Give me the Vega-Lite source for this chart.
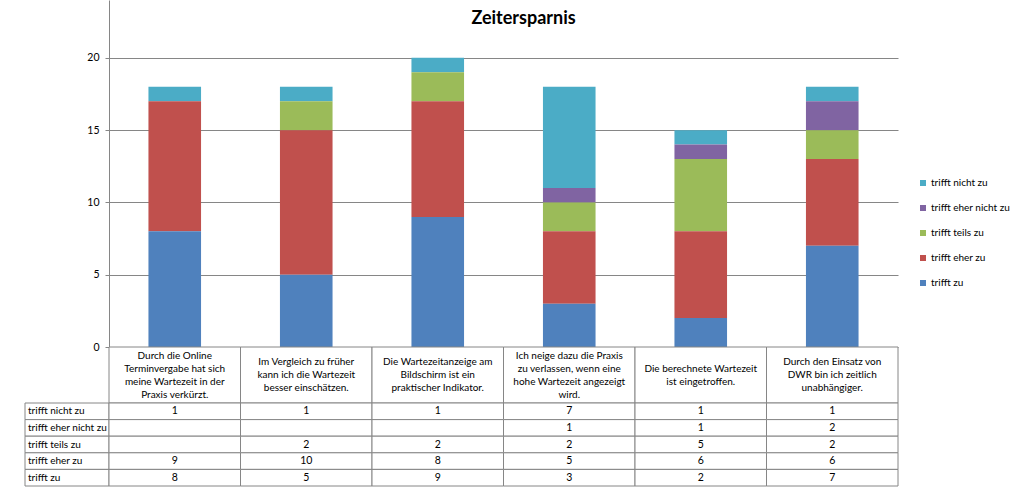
{
  "$schema": "https://vega.github.io/schema/vega-lite/v6.json",
  "padding": {"left": 24, "top": 0, "right": 0, "bottom": 0},
  "background": "white",
  "config": {"font": "Lato", "view": {"stroke": null}},
  "datasets": {
    "questions": [
      {"q": 1, "label": "Durch die Online\nTerminvergabe hat sich\nmeine Wartezeit in der\nPraxis verkürzt."},
      {"q": 2, "label": "Im Vergleich zu früher\nkann ich die Wartezeit\nbesser einschätzen."},
      {"q": 3, "label": "Die Wartezeitanzeige am\nBildschirm ist ein\npraktischer Indikator."},
      {"q": 4, "label": "Ich neige dazu die Praxis\nzu verlassen, wenn eine\nhohe Wartezeit angezeigt\nwird."},
      {"q": 5, "label": "Die berechnete Wartezeit\nist eingetroffen."},
      {"q": 6, "label": "Durch den Einsatz von\nDWR bin ich zeitlich\nunabhängiger."}
    ],
    "answers": [
      {"a": "trifft nicht zu", "k": 5},
      {"a": "trifft eher nicht zu", "k": 4},
      {"a": "trifft teils zu", "k": 3},
      {"a": "trifft eher zu", "k": 2},
      {"a": "trifft zu", "k": 1}
    ],
    "counts": [
      {"q": 1, "a": "trifft nicht zu", "n": 1},
      {"q": 1, "a": "trifft eher nicht zu", "n": null},
      {"q": 1, "a": "trifft teils zu", "n": null},
      {"q": 1, "a": "trifft eher zu", "n": 9},
      {"q": 1, "a": "trifft zu", "n": 8},
      {"q": 2, "a": "trifft nicht zu", "n": 1},
      {"q": 2, "a": "trifft eher nicht zu", "n": null},
      {"q": 2, "a": "trifft teils zu", "n": 2},
      {"q": 2, "a": "trifft eher zu", "n": 10},
      {"q": 2, "a": "trifft zu", "n": 5},
      {"q": 3, "a": "trifft nicht zu", "n": 1},
      {"q": 3, "a": "trifft eher nicht zu", "n": null},
      {"q": 3, "a": "trifft teils zu", "n": 2},
      {"q": 3, "a": "trifft eher zu", "n": 8},
      {"q": 3, "a": "trifft zu", "n": 9},
      {"q": 4, "a": "trifft nicht zu", "n": 7},
      {"q": 4, "a": "trifft eher nicht zu", "n": 1},
      {"q": 4, "a": "trifft teils zu", "n": 2},
      {"q": 4, "a": "trifft eher zu", "n": 5},
      {"q": 4, "a": "trifft zu", "n": 3},
      {"q": 5, "a": "trifft nicht zu", "n": 1},
      {"q": 5, "a": "trifft eher nicht zu", "n": 1},
      {"q": 5, "a": "trifft teils zu", "n": 5},
      {"q": 5, "a": "trifft eher zu", "n": 6},
      {"q": 5, "a": "trifft zu", "n": 2},
      {"q": 6, "a": "trifft nicht zu", "n": 1},
      {"q": 6, "a": "trifft eher nicht zu", "n": 2},
      {"q": 6, "a": "trifft teils zu", "n": 2},
      {"q": 6, "a": "trifft eher zu", "n": 6},
      {"q": 6, "a": "trifft zu", "n": 7}
    ]
  },
  "columns": 2,
  "spacing": 0,
  "bounds": "flush",
  "align": "each",
  "concat": [
    {
      "width": 84, "height": 347,
      "data": {"values": [{}]},
      "mark": {"type": "text", "text": ""}
    },
    {
      "width": 789, "height": 347,
      "data": {"name": "counts"},
      "transform": [
        {"filter": "isValid(datum.n)"},
        {"lookup": "a", "from": {"data": {"name": "answers"}, "key": "a", "fields": ["k"]}}
      ],
      "title": {"text": "Zeitersparnis", "anchor": "middle", "offset": -42, "dx": 20, "baseline": "alphabetic", "fontSize": 18, "fontWeight": "bold", "font": "Lato", "color": "black"},
      "mark": {"type": "bar"},
      "encoding": {
        "x": {"field": "q", "type": "ordinal", "axis": null, "scale": {"paddingInner": 0.6, "paddingOuter": 0.3}},
        "y": {
          "field": "n", "type": "quantitative", "stack": "zero",
          "scale": {"domain": [0, 24], "nice": false, "zero": true},
          "axis": {"values": [0, 5, 10, 15, 20], "title": null, "grid": true, "gridColor": "#868686", "gridWidth": 1, "domainColor": "#868686", "tickColor": "#868686", "tickSize": 4, "labelPadding": 6, "labelFontSize": 10.5, "labelColor": "black", "labelFont": "Lato"}
        },
        "color": {
          "field": "a", "type": "nominal",
          "scale": {"domain": ["trifft nicht zu", "trifft eher nicht zu", "trifft teils zu", "trifft eher zu", "trifft zu"], "range": ["#4BACC6", "#8064A2", "#9BBB59", "#C0504D", "#4F81BD"]},
          "legend": {"title": null, "orient": "none", "legendX": 893, "legendY": 178, "symbolType": "square", "symbolSize": 36, "symbolStrokeWidth": 0, "labelFontSize": 10, "labelFont": "Lato", "labelColor": "black", "labelOffset": 3, "rowPadding": 15, "padding": 0}
        },
        "order": {"field": "k", "type": "quantitative"}
      }
    },
    {
      "width": 84, "height": 56,
      "data": {"values": [{}]},
      "mark": {"type": "text", "text": ""}
    },
    {
      "width": 789, "height": 56,
      "data": {"name": "questions"},
      "encoding": {
        "x": {"field": "q", "type": "ordinal", "axis": null, "scale": {"paddingInner": 0, "paddingOuter": 0}}
      },
      "layer": [
        {"mark": {"type": "rect", "fill": "white", "stroke": "#868686", "strokeWidth": 1}},
        {"transform": [{"calculate": "length(split(datum.label, '\\n'))", "as": "lines"}],
         "mark": {"type": "text", "lineBreak": "\n", "fontSize": 10, "lineHeight": 13, "baseline": "middle", "color": "black", "font": "Lato"},
         "encoding": {
           "y": {"field": "lines", "type": "quantitative", "axis": null, "scale": {"domain": [1, 4], "range": [28, 8.5]}},
           "text": {"field": "label"}
         }}
      ]
    },
    {
      "width": 84, "height": 83,
      "data": {"name": "answers"},
      "encoding": {
        "y": {"field": "a", "type": "ordinal", "axis": null, "sort": ["trifft nicht zu", "trifft eher nicht zu", "trifft teils zu", "trifft eher zu", "trifft zu"], "scale": {"paddingInner": 0, "paddingOuter": 0}}
      },
      "layer": [
        {"mark": {"type": "rect", "fill": "white", "stroke": "#868686", "strokeWidth": 1}},
        {"mark": {"type": "text", "align": "left", "baseline": "middle", "fontSize": 10, "color": "black", "font": "Lato"},
         "encoding": {"x": {"value": 3}, "text": {"field": "a"}}}
      ]
    },
    {
      "width": 789, "height": 83,
      "data": {"name": "counts"},
      "encoding": {
        "x": {"field": "q", "type": "ordinal", "axis": null, "scale": {"paddingInner": 0, "paddingOuter": 0}},
        "y": {"field": "a", "type": "ordinal", "axis": null, "sort": ["trifft nicht zu", "trifft eher nicht zu", "trifft teils zu", "trifft eher zu", "trifft zu"], "scale": {"paddingInner": 0, "paddingOuter": 0}}
      },
      "layer": [
        {"mark": {"type": "rect", "fill": "white", "stroke": "#868686", "strokeWidth": 1}},
        {"transform": [{"filter": "isValid(datum.n)"}],
         "mark": {"type": "text", "baseline": "middle", "fontSize": 10.5, "color": "black", "font": "Lato"},
         "encoding": {"text": {"field": "n", "type": "quantitative"}}}
      ]
    }
  ]
}
